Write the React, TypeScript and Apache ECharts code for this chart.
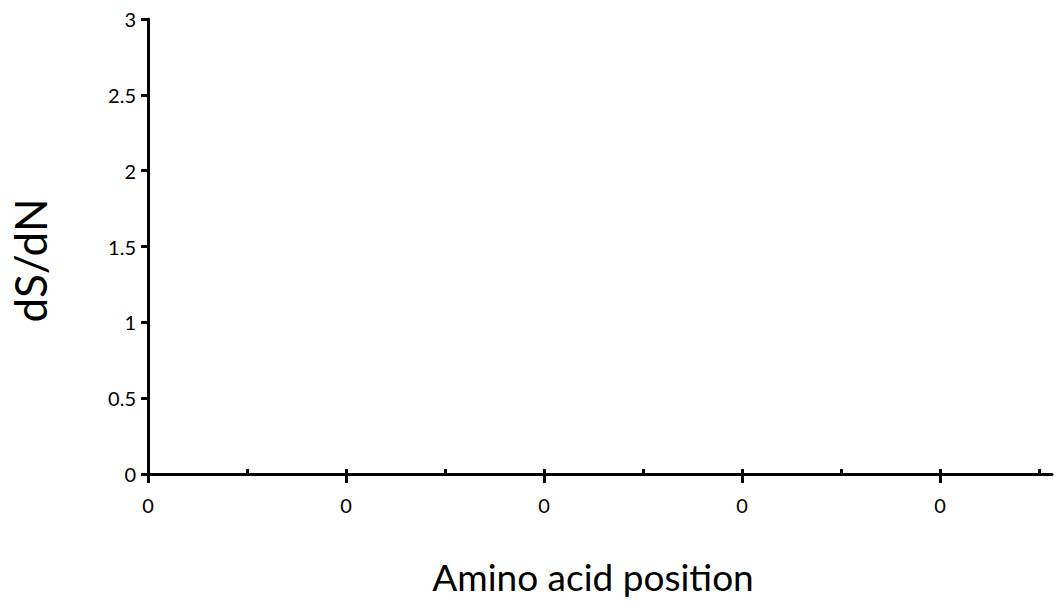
import React, { useEffect, useRef } from "react";
import * as echarts from "echarts";

const xMajorTicks = [0, 2, 4, 6, 8];
const xMinorTicks = [1, 3, 5, 7, 9];
const xTickLabels = ["0", "0", "0", "0", "0"];
const seriesValues: [number, number][] = [];
const yMin = 0;
const yMax = 3;
const yInterval = 0.5;
const xMin = 0;
const xMax = 9.13;

const FONT = "Lato";

export default function App() {
  const ref = useRef<HTMLDivElement>(null);
  useEffect(() => {
    if (!ref.current) return;
    const chart = echarts.init(ref.current, undefined, { renderer: "svg" });
    const baseX = {
      type: "value" as const,
      min: xMin,
      max: xMax,
      position: "bottom" as const,
      offset: 0,
      splitLine: { show: false },
    };
    chart.setOption({
      animation: false,
      backgroundColor: "#ffffff",
      grid: { left: 143, right: 5, top: 19, bottom: 138, containLabel: false },
      xAxis: [
        {
          ...baseX,
          axisLine: { show: true, lineStyle: { color: "#000", width: 3 } },
          axisTick: {
            show: true,
            inside: false,
            length: 9,
            customValues: xMajorTicks,
            lineStyle: { color: "#000", width: 3 },
          },
          axisLabel: {
            show: true,
            customValues: xMajorTicks,
            formatter: (v: number) => xTickLabels[xMajorTicks.indexOf(v)] ?? "",
            color: "#000",
            fontSize: 20,
            fontFamily: FONT,
            margin: 21,
          },
          name: "Amino acid position",
          nameLocation: "middle",
          nameGap: 84,
          nameTextStyle: {
            color: "#000",
            fontSize: 37,
            fontFamily: FONT,
            padding: [0, 14, 0, 0],
          },
        },
        {
          ...baseX,
          axisLine: { show: false },
          axisTick: {
            show: true,
            inside: true,
            length: 5,
            customValues: xMajorTicks,
            lineStyle: { color: "#000", width: 3 },
          },
          axisLabel: { show: false },
        },
        {
          ...baseX,
          axisLine: { show: false },
          axisTick: {
            show: true,
            inside: true,
            length: 5,
            customValues: xMinorTicks,
            lineStyle: { color: "#000", width: 3 },
          },
          axisLabel: { show: false },
        },
      ],
      yAxis: {
        type: "value",
        min: yMin,
        max: yMax,
        interval: yInterval,
        splitLine: { show: false },
        axisLine: { show: true, lineStyle: { color: "#000", width: 3 } },
        axisTick: { show: true, length: 7, lineStyle: { color: "#000", width: 3 } },
        axisLabel: { color: "#000", fontSize: 20, fontFamily: FONT, margin: 12 },
        name: "dS/dN",
        nameLocation: "middle",
        nameGap: 96,
        nameRotate: 90,
        nameTextStyle: { color: "#000", fontSize: 44, fontFamily: FONT, padding: [0, 28, 0, 0] },
      },
      series: [
        {
          type: "scatter",
          data: seriesValues,
          xAxisIndex: 0,
          yAxisIndex: 0,
        },
      ],
    });
    return () => chart.dispose();
  }, []);
  return <div ref={ref} style={{ width: 1057, height: 612, position: "absolute", left: 0, top: 0 }} />;
}
